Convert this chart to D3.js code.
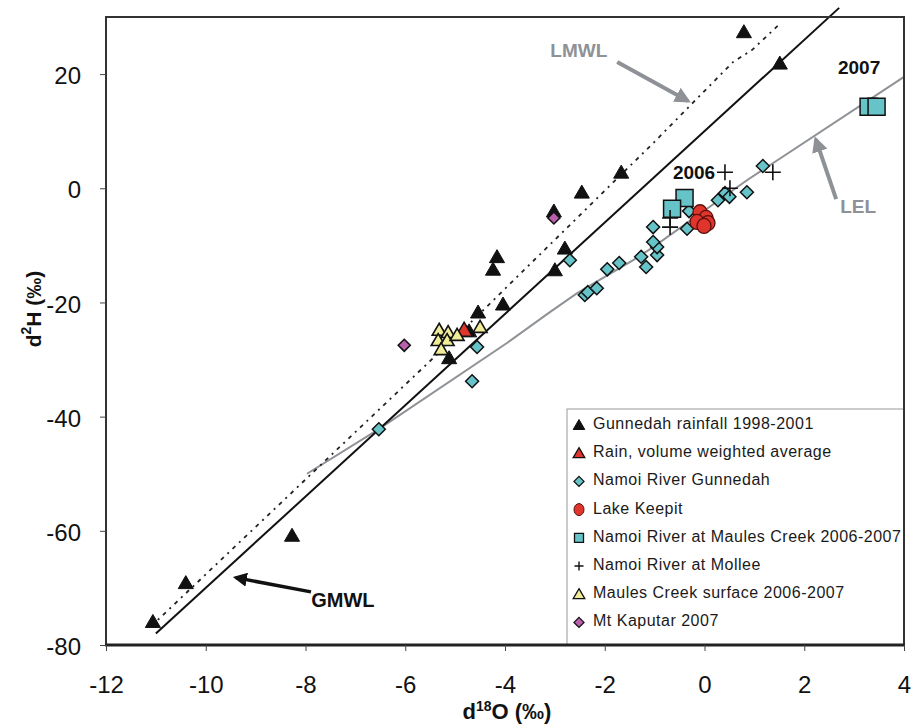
<!DOCTYPE html>
<html>
<head>
<meta charset="utf-8">
<script src="https://cdn.jsdelivr.net/npm/d3@7"></script>
<style>
  body { margin: 0; background: #fff; }
  svg { display: block; }
  text { font-family: "Liberation Sans", Arial, Helvetica, sans-serif; }
</style>
</head>
<body>
<svg id="chart" width="914" height="726"></svg>
<script>
// ---- data: [d18O, d2H] pairs (permil) ----
const xTicks = [-12, -10, -8, -6, -4, -2, 0, 2, 4];
const yTicks = [-80, -60, -40, -20, 0, 20];

const gunnedahRain = [
  [-11.06, -75.9], [-10.40, -69.1], [-8.27, -60.8], [0.79, 27.4], [1.51, 21.9],
  [-1.67, 2.8], [-2.46, -0.7], [-3.02, -4.0], [-4.16, -12.0], [-4.24, -14.2],
  [-2.80, -10.5], [-3.00, -14.3], [-4.04, -20.3], [-4.54, -21.7], [-5.12, -29.7],
  [-4.72, -25.0]
];
const rainWeighted = [[-4.82, -24.8]];
const namoiGunnedah = [
  [-6.53, -42.2], [-4.56, -27.8], [-4.66, -33.8], [-2.70, -12.6], [-2.40, -18.7],
  [-2.34, -18.2], [-2.16, -17.5], [-1.95, -14.2], [-1.71, -13.1], [-1.27, -12.0],
  [-1.17, -13.8], [-0.95, -11.7], [-0.95, -10.3], [-1.03, -9.4], [-1.03, -6.8],
  [-0.35, -7.1], [-0.31, -4.0], [0.27, -2.1], [0.41, -0.85], [0.50, -1.5],
  [0.85, -0.7], [1.17, 3.9]
];
const lakeKeepit = [[-0.09, -4.2], [0.03, -5.2], [-0.15, -5.9], [0.07, -6.1], [-0.01, -6.6]];
const maulesCreekRiver = [[-0.40, -1.7], [-0.65, -3.6], [3.29, 14.3], [3.45, 14.3]];
const mollee = [[-0.69, -5.2], [-0.69, -6.8], [0.41, 2.8], [0.51, 0.0], [1.37, 2.8]];
const maulesSurface = [
  [-5.32, -24.8], [-5.14, -25.2], [-5.34, -26.6], [-5.16, -26.6], [-5.28, -28.2],
  [-4.96, -25.7], [-4.50, -24.3]
];
const kaputar = [[-3.02, -5.2], [-6.02, -27.5]];

// reference lines
const gmwl = [[-11.0, -78.0], [2.7, 31.6]];
const lmwl = [[-10.96, -75.6], [-4.64, -23.1], [-1.03, 7.9], [0.57, 22.1], [0.95, 24.2], [1.51, 28.8]];
const lel = [
  [-7.97, -50.0], [-6.53, -42.2], [-3.96, -27.1], [-3.10, -21.7], [-2.56, -18.4],
  [-1.43, -12.6], [-1.03, -10.3], [0.85, 1.4], [4.0, 19.5]
];

const legendLabels = [
  "Gunnedah rainfall 1998-2001",
  "Rain, volume weighted average",
  "Namoi River Gunnedah",
  "Lake Keepit",
  "Namoi River at Maules Creek 2006-2007",
  "Namoi River at Mollee",
  "Maules Creek surface 2006-2007",
  "Mt Kaputar 2007"
];

// ---- layout ----
const svg = d3.select("#chart");
const plotL = 106, plotR = 904, plotT = 17, plotB = 645;
const x = d3.scaleLinear().domain([-12, 4]).range([plotL, plotR]);
const y = d3.scaleLinear().domain([-80, 30]).range([plotB, plotT]);

const cyan = "#66c3c8", red = "#e0352c", yellow = "#f1ec98", magenta = "#b960ad",
      grey = "#8e9196", ink = "#111";

// ---- symbol paths ----
const tri = s => `M0,${-s * 0.55}L${s * 0.58},${s * 0.45}L${-s * 0.58},${s * 0.45}Z`;
const dia = s => `M0,${-s / 2}L${s / 2},0L0,${s / 2}L${-s / 2},0Z`;
const sq = s => `M${-s / 2},${-s / 2}h${s}v${s}h${-s}Z`;
const cross = s => `M${-s / 2},0H${s / 2}M0,${-s / 2}V${s / 2}`;

// legend box (sits on the plot area's lower-right)
svg.append("rect")
  .attr("x", 567).attr("y", 409).attr("width", plotR - 567).attr("height", plotB - 409)
  .attr("fill", "#fff").attr("stroke", "#9a9a9a").attr("stroke-width", 1);

// ---- lines ----
const line = d3.line().x(d => x(d[0])).y(d => y(d[1]));
svg.append("path").datum(lel).attr("d", line)
  .attr("fill", "none").attr("stroke", grey).attr("stroke-width", 2);
svg.append("path").datum(lmwl).attr("d", line)
  .attr("fill", "none").attr("stroke", "#222").attr("stroke-width", 1.8)
  .attr("stroke-dasharray", "2,5,4,5");
svg.append("path").datum(gmwl).attr("d", line)
  .attr("fill", "none").attr("stroke", ink).attr("stroke-width", 2);

// ---- point series ----
function points(data, pathFn, size, fill, stroke, sw) {
  svg.append("g").selectAll("path").data(data).join("path")
    .attr("transform", d => `translate(${x(d[0])},${y(d[1])})`)
    .attr("d", pathFn(size))
    .attr("fill", fill).attr("stroke", stroke).attr("stroke-width", sw)
    .attr("stroke-linejoin", "miter");
}
points(gunnedahRain, tri, 13, ink, ink, 1);
points(rainWeighted, tri, 14, red, ink, 1.5);
points(namoiGunnedah, dia, 13, cyan, ink, 1.5);
svg.append("g").selectAll("ellipse").data(lakeKeepit).join("ellipse")
  .attr("cx", d => x(d[0])).attr("cy", d => y(d[1]))
  .attr("rx", 7).attr("ry", 7.5)
  .attr("fill", red).attr("stroke", "#5a100c").attr("stroke-width", 1.3);
points(maulesCreekRiver, sq, 17, cyan, ink, 1.5);
points(mollee, cross, 16, "none", ink, 1.6);
points(maulesSurface, tri, 12, yellow, ink, 1.6);
points(kaputar, dia, 12, magenta, ink, 1.6);

// ---- frame and axes ----
svg.append("rect")
  .attr("x", plotL).attr("y", plotT).attr("width", plotR - plotL).attr("height", plotB - plotT)
  .attr("fill", "none").attr("stroke", "#333").attr("stroke-width", 2);
svg.append("line")
  .attr("x1", plotL - 1).attr("x2", plotR + 1).attr("y1", plotB).attr("y2", plotB)
  .attr("stroke", "#222").attr("stroke-width", 3);

const gx = svg.append("g").attr("transform", `translate(0,${plotB})`)
  .call(d3.axisBottom(x).tickValues(xTicks).tickSize(6).tickPadding(25).tickFormat(d3.format("d")));
const gy = svg.append("g").attr("transform", `translate(${plotL},0)`)
  .call(d3.axisLeft(y).tickValues(yTicks).tickSize(6).tickPadding(19).tickFormat(d3.format("d")));
[gx, gy].forEach(g => {
  g.select(".domain").remove();
  g.selectAll("line").attr("stroke", "#444").attr("stroke-width", 1);
  g.selectAll("text").attr("font-size", 24).attr("fill", "#111")
    .attr("font-family", "'Liberation Sans', Arial, sans-serif")
    .text(d => String(d));
});
gy.selectAll("text").attr("dy", "0.4em");

// axis titles
const xt = svg.append("text").attr("x", 507).attr("y", 719).attr("text-anchor", "middle")
  .attr("font-size", 22).attr("font-weight", "bold").attr("fill", "#111");
xt.append("tspan").text("d");
xt.append("tspan").attr("dy", -8).attr("font-size", 14).text("18");
xt.append("tspan").attr("dy", 8).text("O (‰)");

const yt = svg.append("text").attr("transform", "translate(41,309) rotate(-90)")
  .attr("text-anchor", "middle").attr("font-size", 21).attr("font-weight", "bold").attr("fill", "#111");
yt.append("tspan").text("d");
yt.append("tspan").attr("dy", -10).attr("font-size", 14).text("2");
yt.append("tspan").attr("dy", 10).text("H (‰)");

// ---- annotations ----
const defs = svg.append("defs");
function arrowHead(id, color) {
  defs.append("marker").attr("id", id).attr("viewBox", "0 0 10 10")
    .attr("refX", 8).attr("refY", 5).attr("markerWidth", 4).attr("markerHeight", 4)
    .attr("orient", "auto").attr("markerUnits", "strokeWidth")
    .append("path").attr("d", "M0,0L10,5L0,10Z").attr("fill", color);
}
arrowHead("headGrey", grey);
arrowHead("headBlack", "#111");

function arrow(from, to, color, w, head) {
  svg.append("line")
    .attr("x1", x(from[0])).attr("y1", y(from[1]))
    .attr("x2", x(to[0])).attr("y2", y(to[1]))
    .attr("stroke", color).attr("stroke-width", w)
    .attr("marker-end", `url(#${head})`);
}
arrow([-1.75, 22.1], [-0.33, 15.3], grey, 4, "headGrey");
arrow([2.64, -1.9], [2.23, 8.6], grey, 4, "headGrey");
arrow([-7.89, -70.7], [-9.40, -68.2], "#111", 3.5, "headBlack");

function label(t, at, color, size) {
  svg.append("text").attr("x", x(at[0])).attr("y", y(at[1])).attr("dy", "0.36em")
    .attr("text-anchor", "middle").attr("font-size", size).attr("font-weight", "bold")
    .attr("fill", color).text(t);
}
label("LMWL", [-2.52, 24.2], grey, 19);
label("LEL", [3.08, -3.2], grey, 19);
label("GMWL", [-7.25, -72.1], "#111", 20);
label("2006", [-0.21, 2.9], "#111", 19);
label("2007", [3.10, 21.2], "#111", 19);

// ---- legend ----
const lg = svg.append("g");
const legendMarks = [
  g => g.append("path").attr("d", tri(10)).attr("fill", ink).attr("stroke", ink),
  g => g.append("path").attr("d", tri(10)).attr("fill", red).attr("stroke", ink).attr("stroke-width", 1.3),
  g => g.append("path").attr("d", dia(10)).attr("fill", cyan).attr("stroke", ink).attr("stroke-width", 1.3),
  g => g.append("ellipse").attr("rx", 5).attr("ry", 6).attr("fill", red).attr("stroke", "#5a100c"),
  g => g.append("path").attr("d", sq(9)).attr("fill", cyan).attr("stroke", ink).attr("stroke-width", 1.3),
  g => g.append("path").attr("d", cross(9)).attr("fill", "none").attr("stroke", ink).attr("stroke-width", 1.4),
  g => g.append("path").attr("d", tri(10)).attr("fill", yellow).attr("stroke", ink).attr("stroke-width", 1.3),
  g => g.append("path").attr("d", dia(10)).attr("fill", magenta).attr("stroke", ink).attr("stroke-width", 1.3)
];
legendLabels.forEach((t, i) => {
  const cy = 423 + i * 28.2;
  const g = lg.append("g").attr("transform", `translate(579,${cy + 2})`);
  legendMarks[i](g);
  lg.append("text").attr("x", 593).attr("y", cy + 6)
    .attr("font-size", 16).attr("letter-spacing", "0.5px").attr("fill", "#1a1a1a").text(t);
});
</script>
</body>
</html>
